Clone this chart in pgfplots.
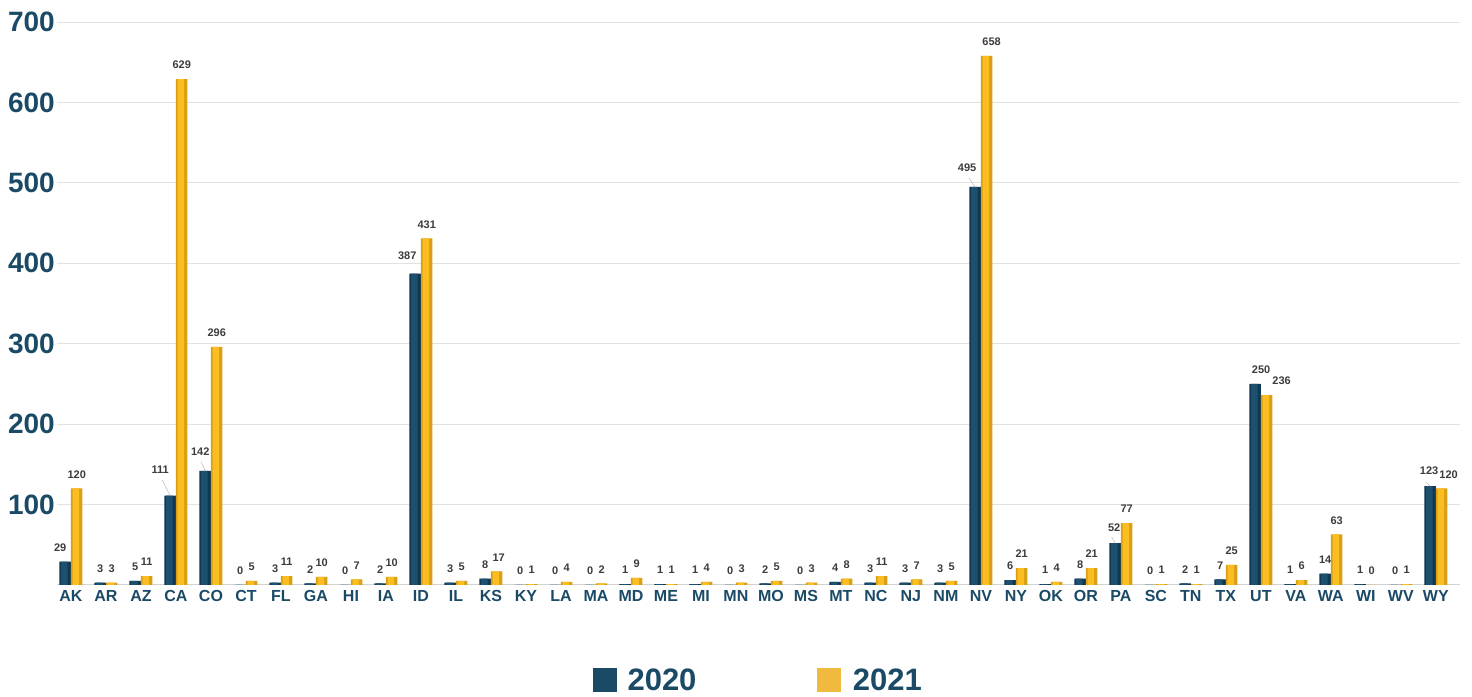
\documentclass[border=0pt]{standalone}
\usepackage{pgfplots}
\pgfplotsset{compat=1.18}
\usepackage{pgfplotstable}
\usepackage{fontspec}
\setmainfont{Liberation Sans}

\definecolor{navy}{HTML}{1B4A66}
\definecolor{legendgold}{HTML}{EFBA3E}
\definecolor{navyEdge}{HTML}{103852}
\definecolor{navyCore}{HTML}{1D4F6F}
\definecolor{goldEdge}{HTML}{D9A015}
\definecolor{goldCore}{HTML}{FBBD22}
\definecolor{labelgray}{HTML}{3C3C3C}
\definecolor{gridgray}{HTML}{E2E2E2}

% idx = state position, val = count, dx/dy = label nudge in pt
\pgfplotstableread{
idx val dx dy
0 29 -5 0
1 3 0 0
2 5 0 0
3 111 -10 12
4 142 -5 5
5 0 0 0
6 3 0 0
7 2 0 0
8 0 0 0
9 2 0 0
10 387 -8 4
11 3 0 0
12 8 0 0
13 0 0 0
14 0 0 0
15 0 0 0
16 1 0 0
17 1 0 0
18 1 0 0
19 0 0 0
20 2 0 0
21 0 0 0
22 4 0 0
23 3 0 0
24 3 0 0
25 3 0 0
26 495 -8 5
27 6 0 0
28 1 0 0
29 8 0 0
30 52 -1 1
31 0 0 0
32 2 0 0
33 7 0 0
34 250 6 0
35 1 0 0
36 14 0 0
37 1 0 0
38 0 0 0
39 123 -1 1
}\tabA

\pgfplotstableread{
idx val dx dy
0 120 0 0
1 3 0 0
2 11 0 0
3 629 0 0
4 296 0 0
5 5 0 0
6 11 0 0
7 10 0 0
8 7 0 0
9 10 0 0
10 431 0 0
11 5 0 0
12 17 2 0
13 1 0 0
14 4 0 0
15 2 0 0
16 9 0 0
17 1 0 0
18 4 0 0
19 3 0 0
20 5 0 0
21 3 0 0
22 8 0 0
23 11 0 0
24 7 0 0
25 5 0 0
26 658 5 0
27 21 0 0
28 4 0 0
29 21 0 0
30 77 0 0
31 1 0 0
32 1 0 0
33 25 0 0
34 236 15 0
35 6 0 0
36 63 0 0
37 0 0 0
38 1 0 0
39 120 7 0
}\tabB

\begin{document}
\begin{tikzpicture}
\useasboundingbox (0,0) rectangle (1472pt,696pt);
\begin{axis}[
  at={(57pt,111pt)}, anchor=south west,
  scale only axis, width=1403pt, height=563pt,
  xmin=-0.4, xmax=39.69, ymin=0, ymax=700,
  clip=false,
  axis x line*=bottom, axis y line*=left,
  x axis line style={draw=gridgray!85!gray, line width=1pt, -},
  y axis line style={draw=none},
  tick style={draw=none},
  ymajorgrids, grid style={gridgray, line width=0.8pt},
  ytick={100,200,...,700},
  xtick={0,...,39},
  xticklabels={AK,AR,AZ,CA,CO,CT,FL,GA,HI,IA,ID,IL,KS,KY,LA,MA,MD,ME,MI,MN,MO,MS,MT,NC,NJ,NM,NV,NY,OK,OR,PA,SC,TN,TX,UT,VA,WA,WI,WV,WY},
  /pgf/number format/assume math mode=true,
  yticklabel style={font=\bfseries\fontsize{28}{28}\selectfont, text=navy, inner sep=0pt, xshift=-2pt},
  xticklabel style={font=\bfseries\fontsize{16}{16}\selectfont, text=navy, inner sep=0pt, yshift=-5pt},
  legend style={at={(0.5,-0.1687)}, anchor=center, draw=none, fill=none,
    font=\bfseries\fontsize{31}{31}\selectfont, text=navy,
    /tikz/every even column/.append style={column sep=118pt}},
  legend columns=2,
  nodes near coords style={font=\bfseries\fontsize{11}{11}\selectfont, text=labelgray, inner sep=0pt, anchor=south},
]
\addlegendimage{legend image code/.code={\fill[navy] (0pt,-11.5pt) rectangle (23pt,11.5pt); \path (32pt,0pt);}}
\addlegendentry{2020}
\addlegendimage{legend image code/.code={\fill[legendgold] (0pt,-11.5pt) rectangle (23pt,11.5pt); \path (34pt,0pt);}}
\addlegendentry{2021}

% 2020 bars: darker edge, lighter core
\addplot[forget plot, ybar, bar width=11.5pt, bar shift=-5.75pt, draw=none, fill=navyEdge,
  point meta=explicit, nodes near coords,
  visualization depends on={\thisrow{dx} \as \dx},
  visualization depends on={\thisrow{dy} \as \dy},
  nodes near coords style={xshift={\dx pt-5.75pt}, yshift={10pt+\dy pt}}]
  table[x=idx, y=val, meta=val] {\tabA};
\addplot[forget plot, ybar, bar width=6.5pt, bar shift=-6.5pt, draw=none, fill=navyCore]
  table[x=idx, y=val] {\tabA};

% 2021 bars
\addplot[forget plot, ybar, bar width=11.5pt, bar shift=5.75pt, draw=none, fill=goldEdge,
  point meta=explicit, nodes near coords,
  visualization depends on={\thisrow{dx} \as \dx},
  visualization depends on={\thisrow{dy} \as \dy},
  nodes near coords style={xshift={\dx pt+5.75pt}, yshift={10pt+\dy pt}}]
  table[x=idx, y=val, meta=val] {\tabB};
\addplot[forget plot, ybar, bar width=6.5pt, bar shift=5pt, draw=none, fill=goldCore]
  table[x=idx, y=val] {\tabB};

% leader lines from the offset labels back to their bars
\draw[gray!55, line width=0.5pt] ([xshift=-5.75pt]axis cs:3,111) -- ([xshift=-14pt,yshift=16pt]axis cs:3,111);
\draw[gray!55, line width=0.5pt] ([xshift=-5.75pt]axis cs:4,142) -- ([xshift=-10pt,yshift=9pt]axis cs:4,142);
\draw[gray!55, line width=0.5pt] ([xshift=-5.75pt]axis cs:26,495) -- ([xshift=-12pt,yshift=9pt]axis cs:26,495);
\draw[gray!55, line width=0.5pt] ([xshift=-5.75pt]axis cs:30,52) -- ([xshift=-9pt,yshift=6pt]axis cs:30,52);
\draw[gray!55, line width=0.5pt] ([xshift=-5.75pt]axis cs:39,123) -- ([xshift=-10pt,yshift=4pt]axis cs:39,123);
\end{axis}
\end{tikzpicture}
\end{document}
